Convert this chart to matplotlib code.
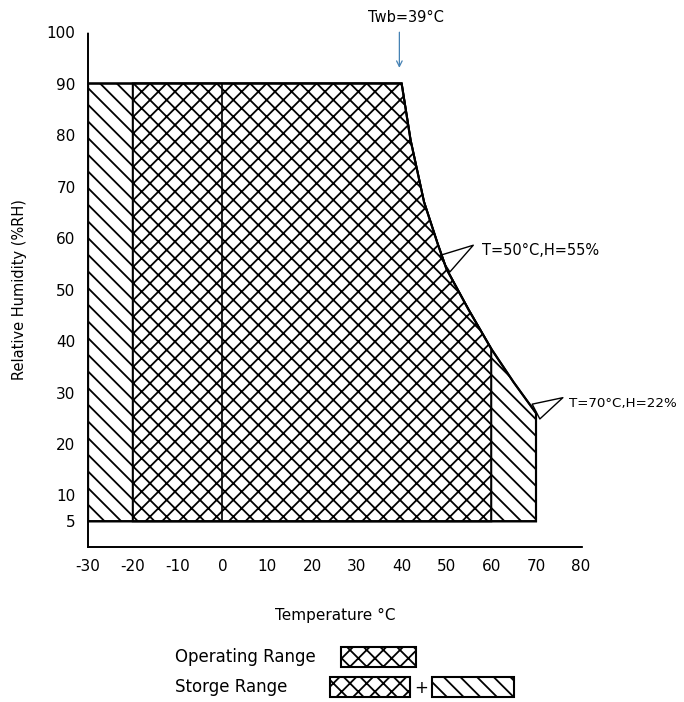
import matplotlib
matplotlib.use("Agg")
from matplotlib import pyplot as plt
from matplotlib.patches import Polygon, Rectangle

# chart data
temp_ticks = [-30, -20, -10, 0, 10, 20, 30, 40, 50, 60, 70, 80]
rh_ticks = [5, 10, 20, 30, 40, 50, 60, 70, 80, 90, 100]
storage_t = [-30, 70]
operating_t = [-20, 60]
rh_low = 5
rh_high = 90
curve_t = [40, 42, 45, 48, 50, 55, 60, 65, 70]
curve_rh = [90, 79, 67, 59, 54, 46, 38.5, 32, 26]

plt.rcParams['font.family'] = ['DejaVu Sans']
plt.rcParams['axes.unicode_minus'] = False
plt.rcParams['hatch.linewidth'] = 1.3

fig = plt.figure(figsize=(6.84, 7.02), dpi=100)
ax = fig.add_axes([0.1287, 0.2208, 0.7237, 0.7336])


def region(t0, t1):
    # polygon of the allowed area between temperatures t0 and t1
    pts = [(t0, rh_low), (t0, rh_high)]
    for t, h in zip(curve_t, curve_rh):
        if t0 <= t <= t1:
            pts.append((t, h))
    pts.append((t1, rh_low))
    return pts


store = Polygon(region(*storage_t), closed=True, facecolor='white',
                edgecolor='black', hatch='\\\\', linewidth=1.5)
ax.add_patch(store)
oper = Polygon(region(*operating_t), closed=True, facecolor='white',
               edgecolor='black', hatch='xx', linewidth=1.5)
ax.add_patch(oper)
ax.plot([0, 0], [rh_low, rh_high], color='black', lw=1.2)
# outline again so edges sit on top
ax.add_patch(Polygon(region(*storage_t), closed=True, fill=False,
                     edgecolor='black', linewidth=1.5))

ax.set_xlim(-30, 80.5)
ax.set_ylim(0, 100)
ax.set_xticks(temp_ticks)
ax.set_yticks(rh_ticks)
ax.tick_params(length=0, labelsize=11, pad=9)
for s in ['top', 'right']:
    ax.spines[s].set_visible(False)
for s in ['left', 'bottom']:
    ax.spines[s].set_linestyle((0, (4, 1)))
    ax.spines[s].set_linewidth(1.4)

ax.set_xlabel("Temperature °C", fontsize=11, labelpad=24)
ax.set_ylabel("Relative Humidity (%RH)", fontsize=10.5, labelpad=14)

# annotations
ax.text(41, 102.8, "Twb=39°C", fontsize=10.5, ha='center', va='center', clip_on=False)
ax.annotate('', xy=(39.5, 92.5), xytext=(39.5, 100.5),
            arrowprops=dict(arrowstyle='->', color='steelblue', lw=0.9),
            annotation_clip=False)

ax.annotate('', xy=(56, 58.6), xytext=(49.6, 55),
            arrowprops=dict(arrowstyle='wedge,tail_width=1.4', fc='none', ec='black',
                            lw=1, shrinkA=0, shrinkB=0))
ax.text(58, 57.5, "T=50°C,H=55%", fontsize=10.5, va='center')
ax.annotate('', xy=(76, 29), xytext=(70, 26.3),
            arrowprops=dict(arrowstyle='wedge,tail_width=1.2', fc='none', ec='black',
                            lw=1, shrinkA=0, shrinkB=0),
            annotation_clip=False)
ax.text(77.3, 27.8, "T=70°C,H=22%", fontsize=9.6, va='center', clip_on=False)

# legend drawn below
fig.text(175 / 684, 1 - 657 / 702, "Operating Range", fontsize=12, va='center')
fig.text(175 / 684, 1 - 687 / 702, "Storge Range", fontsize=12, va='center')
boxes = [(341, 647, 75, 20, 'xx'), (330, 677, 80, 20, 'xx'), (432, 677, 82, 20, '\\\\')]
for x, y, w, h, hp in boxes:
    fig.add_artist(Rectangle((x / 684, 1 - (y + h) / 702), w / 684, h / 702,
                             transform=fig.transFigure, facecolor='white',
                             edgecolor='black', hatch=hp, linewidth=1.5))
fig.text(421 / 684, 1 - 688 / 702, "+", fontsize=12, ha='center', va='center')

fig.savefig("out.png", dpi=100)
